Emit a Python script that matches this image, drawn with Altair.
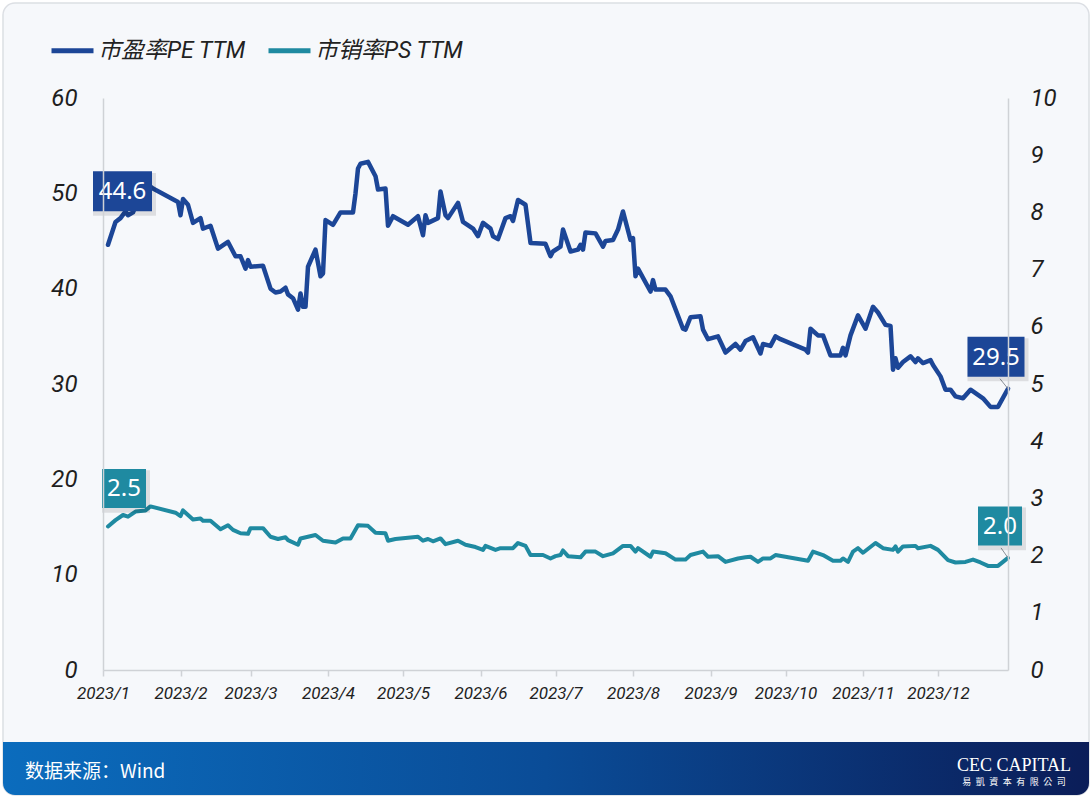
import altair as alt
import pandas as pd

# ---------------- data ----------------
series_names = ["市盈率PE TTM", "市销率PS TTM"]

pe_dates = [
    "01-03", "01-06", "01-08", "01-10", "01-11", "01-13", "01-15", "01-17", "01-19", "01-21",
    "01-31", "02-01", "02-02", "02-04", "02-06", "02-09", "02-10", "02-13", "02-16", "02-20",
    "02-23", "02-25", "02-27", "02-28", "03-01", "03-06", "03-09", "03-11", "03-13", "03-15",
    "03-16", "03-18", "03-20", "03-21", "03-22", "03-23", "03-24", "03-27", "03-29", "03-30",
    "03-31", "04-03", "04-06", "04-11", "04-12", "04-13", "04-14", "04-17", "04-20", "04-21",
    "04-24", "04-25", "04-27", "05-03", "05-07", "05-09", "05-10", "05-11", "05-15", "05-16",
    "05-18", "05-19", "05-23", "05-25", "05-29", "05-31", "06-02", "06-05", "06-06", "06-08",
    "06-11", "06-13", "06-14", "06-16", "06-19", "06-21", "06-27", "06-29", "06-30", "07-03",
    "07-04", "07-07", "07-10", "07-11", "07-12", "07-13", "07-17", "07-20", "07-21", "07-24",
    "07-26", "07-28", "07-31", "08-01", "08-02", "08-03", "08-08", "08-09", "08-10", "08-14",
    "08-16", "08-21", "08-22", "08-24", "08-28", "08-29", "08-31", "09-04", "09-07", "09-11",
    "09-13", "09-15", "09-18", "09-21", "09-22", "09-25", "09-27", "09-29", "10-09", "10-10",
    "10-11", "10-14", "10-16", "10-19", "10-23", "10-24", "10-25", "10-27", "10-30", "11-02",
    "11-05", "11-07", "11-10", "11-12", "11-13", "11-14", "11-15", "11-17", "11-20", "11-22",
    "11-23", "11-25", "11-28", "11-29", "12-02", "12-04", "12-06", "12-08", "12-11", "12-14",
    "12-19", "12-22", "12-25", "12-29",
]
pe_values = [
    44.6, 47.0, 47.4, 48.1, 47.7, 48.0, 49.3, 50.2, 50.9, 50.5,
    49.1, 47.7, 49.4, 48.8, 46.9, 47.4, 46.3, 46.6, 44.2, 44.9,
    43.4, 43.4, 42.1, 43.0, 42.3, 42.4, 40.0, 39.6, 39.7, 40.1,
    39.4, 39.0, 37.8, 39.5, 38.1, 38.1, 42.3, 44.1, 41.3, 41.6,
    47.2, 46.7, 48.0, 48.0, 50.0, 52.6, 53.1, 53.3, 51.8, 50.4,
    50.5, 46.6, 47.6, 46.7, 47.6, 45.6, 47.7, 46.9, 47.4, 50.2,
    47.7, 47.4, 49.0, 47.0, 46.3, 45.5, 46.9, 46.3, 45.5, 45.2,
    47.4, 47.6, 47.1, 49.3, 48.8, 44.8, 44.7, 43.4, 43.9, 44.4,
    46.2, 43.9, 44.1, 44.6, 44.1, 45.9, 45.8, 44.4, 45.0, 45.1,
    46.2, 48.1, 45.1, 45.3, 41.3, 42.1, 39.7, 40.9, 39.9, 39.9,
    39.2, 35.8, 35.7, 37.0, 37.1, 35.7, 34.7, 35.0, 33.3, 34.2,
    33.6, 34.5, 34.9, 33.2, 34.2, 34.0, 35.0, 34.7, 33.6, 33.3,
    35.8, 35.1, 35.1, 33.0, 33.0, 33.8, 33.0, 35.1, 37.2, 35.8,
    38.1, 37.5, 36.2, 36.1, 31.5, 32.7, 31.7, 32.3, 32.9, 32.3,
    32.7, 32.2, 32.5, 32.0, 30.8, 29.4, 29.4, 28.7, 28.5, 29.4,
    28.5, 27.6, 27.6, 29.5,
]

ps_dates = [
    "01-03", "01-06", "01-09", "01-11", "01-14", "01-18", "01-20", "01-30", "02-01", "02-02",
    "02-06", "02-09", "02-10", "02-13", "02-17", "02-20", "02-22", "02-25", "02-28", "03-01",
    "03-06", "03-09", "03-12", "03-15", "03-16", "03-20", "03-21", "03-24", "03-27", "03-30",
    "04-04", "04-07", "04-10", "04-13", "04-17", "04-20", "04-24", "04-25", "04-28", "05-07",
    "05-09", "05-11", "05-13", "05-16", "05-18", "05-23", "05-26", "05-30", "06-02", "06-03",
    "06-07", "06-09", "06-14", "06-16", "06-19", "06-21", "06-26", "06-29", "07-01", "07-03",
    "07-04", "07-06", "07-11", "07-13", "07-17", "07-20", "07-24", "07-28", "07-31", "08-02",
    "08-03", "08-08", "08-09", "08-14", "08-18", "08-22", "08-24", "08-29", "08-31", "09-04",
    "09-07", "09-12", "09-15", "09-17", "09-20", "09-22", "09-25", "09-27", "10-10", "10-12",
    "10-16", "10-20", "10-23", "10-24", "10-26", "10-28", "10-30", "11-01", "11-06", "11-09",
    "11-13", "11-14", "11-15", "11-17", "11-22", "11-23", "11-28", "12-01", "12-05", "12-08",
    "12-12", "12-15", "12-18", "12-21", "12-25", "12-29",
]
ps_values = [
    2.51, 2.62, 2.71, 2.68, 2.77, 2.79, 2.86, 2.75, 2.69, 2.79,
    2.63, 2.65, 2.61, 2.61, 2.46, 2.53, 2.45, 2.39, 2.38, 2.48,
    2.48, 2.33, 2.29, 2.32, 2.27, 2.19, 2.30, 2.33, 2.36, 2.26,
    2.23, 2.30, 2.30, 2.53, 2.52, 2.40, 2.39, 2.26, 2.29, 2.33,
    2.26, 2.29, 2.25, 2.30, 2.20, 2.26, 2.19, 2.15, 2.10, 2.17,
    2.10, 2.13, 2.13, 2.22, 2.17, 2.01, 2.01, 1.95, 1.99, 2.01,
    2.09, 1.99, 1.97, 2.07, 2.07, 1.99, 2.04, 2.17, 2.17, 2.07,
    2.13, 1.98, 2.07, 2.04, 1.93, 1.93, 2.01, 2.07, 1.98, 1.99,
    1.89, 1.95, 1.97, 1.98, 1.89, 1.95, 1.95, 2.01, 1.91, 2.07,
    2.01, 1.91, 1.91, 1.95, 1.89, 2.07, 2.13, 2.05, 2.22, 2.13,
    2.10, 2.16, 2.07, 2.16, 2.17, 2.13, 2.17, 2.10, 1.92, 1.88,
    1.89, 1.93, 1.88, 1.82, 1.82, 1.96,
]

left_ticks = [0, 10, 20, 30, 40, 50, 60]
right_ticks = [0, 1, 2, 3, 4, 5, 6, 7, 8, 9, 10]
tick_months = [1, 2, 3, 4, 5, 6, 7, 8, 9, 10, 11, 12]
source_text = "数据来源：Wind"
logo_text = "CEC CAPITAL"
logo_sub = "\u2002".join(["易", "凱", "資", "本", "有", "限", "公", "司"])

PE_COLOR = "#1c4697"
PS_COLOR = "#1f8aa1"
AXIS_GREY = "#cfd2d6"
LABEL_FONT = "Roboto"


def to_date(md):
    return "2023/" + md.replace("-", "/")


pe_df = pd.DataFrame({"date": [to_date(d) for d in pe_dates], "value": pe_values, "series": series_names[0]})
ps_df = pd.DataFrame({"date": [to_date(d) for d in ps_dates], "value": ps_values, "series": series_names[1]})
one = pd.DataFrame({"k": [0]})

# ---------------- encodings ----------------
x_enc = alt.X(
    "date:T",
    scale=alt.Scale(domain=[alt.DateTime(year=2023, month=1, date=1),
                            alt.DateTime(year=2023, month=12, date=29)]),
    axis=alt.Axis(
        title=None,
        values=[alt.DateTime(year=2023, month=m, date=1) for m in tick_months],
        labelExpr="timeFormat(datum.value, '%Y/') + (month(datum.value) + 1)",
        tickSize=6, tickColor=AXIS_GREY, tickWidth=1.5,
        domainColor=AXIS_GREY, domainWidth=1.5,
        labelFont=LABEL_FONT, labelFontStyle="italic", labelFontSize=17, labelColor="#222222",
        labelPadding=9, labelFlush=False, labelOverlap=False, grid=False, zindex=1,
    ),
)

y_pe = alt.Y(
    "value:Q",
    scale=alt.Scale(domain=[0, 60], nice=False),
    axis=alt.Axis(
        title=None, orient="left", values=left_ticks, ticks=False, tickSize=0,
        domainColor=AXIS_GREY, domainWidth=1.5,
        labelFont=LABEL_FONT, labelFontStyle="italic", labelFontSize=24, labelColor="#1e1e1e",
        labelPadding=26, grid=False, zindex=1,
    ),
)
y_ps = alt.Y(
    "value:Q",
    scale=alt.Scale(domain=[0, 10], nice=False),
    axis=alt.Axis(
        title=None, orient="right", values=right_ticks, ticks=False, tickSize=0,
        domainColor=AXIS_GREY, domainWidth=1.5,
        labelFont=LABEL_FONT, labelFontStyle="italic", labelFontSize=24, labelColor="#1e1e1e",
        labelPadding=22, grid=False, zindex=1,
    ),
)

color_enc = alt.Color(
    "series:N",
    scale=alt.Scale(domain=series_names, range=[PE_COLOR, PS_COLOR]),
    legend=alt.Legend(
        title=None, orient="none", legendX=-54, legendY=-71, direction="horizontal",
        symbolType="stroke", symbolSize=1764, symbolStrokeWidth=5,
        labelFont="Roboto, Noto Sans CJK SC", labelFontStyle="italic", labelFontSize=23,
        labelColor="#222222", labelOffset=2, columnPadding=12, padding=0,
    ),
)


def tag_layers(df, y_enc, color, w, h, dx, dy, leader=None):
    base = alt.Chart(df).encode(x=x_enc, y=y_enc)
    r = h / w
    path = f"M-1,{-r:.4f}L1,{-r:.4f}L1,{r:.4f}L-1,{r:.4f}Z"
    layers = []
    if leader is not None:
        lx, ly = leader
        layers.append(base.mark_point(
            shape=f"M0,0L{lx / 10:.3f},{ly / 10:.3f}", size=400, filled=False,
            color="#8a8f96", strokeWidth=1, opacity=1))
    layers.append(base.mark_point(shape=path, size=(w + 4) ** 2, filled=True, color="#000000",
                                  opacity=0.10, xOffset=dx + 2, yOffset=dy + 3, strokeWidth=0))
    layers.append(base.mark_point(shape=path, size=w * w, filled=True, color=color,
                                  opacity=1, xOffset=dx, yOffset=dy, strokeWidth=0))
    layers.append(base.mark_text(color="white", font="Noto Sans", fontSize=24, dx=dx, dy=dy + 1,
                                 align="center", baseline="middle")
                  .encode(text=alt.Text("value:Q", format=".1f")))
    return layers


# ---------------- decoration ----------------
card = alt.Chart(one).mark_rect(fill="#f6f8fb", stroke="#dcdfe4", strokeWidth=1.5, cornerRadius=12).encode(
    x=alt.value(-100), x2=alt.value(986), y=alt.value(-95), y2=alt.value(697))

footer = alt.Chart(one).mark_rect(
    color=alt.Gradient(gradient="linear", x1=0, x2=1, y1=0, y2=0,
                       stops=[alt.GradientStop(color="#0b6cbd", offset=0),
                              alt.GradientStop(color="#0a4c97", offset=0.5),
                              alt.GradientStop(color="#0b1d58", offset=1)]),
    cornerRadiusBottomLeft=12, cornerRadiusBottomRight=12,
).encode(x=alt.value(-100), x2=alt.value(986), y=alt.value(644), y2=alt.value(697))

src = alt.Chart(one).mark_text(text=source_text, color="white", font="Noto Sans CJK SC", fontSize=19,
                               align="left", baseline="middle").encode(x=alt.value(-78), y=alt.value(674))
logo = alt.Chart(one).mark_text(text=logo_text, color="white", font="Liberation Serif", fontSize=18,
                                align="center", baseline="middle").encode(x=alt.value(911), y=alt.value(668))
logo2 = alt.Chart(one).mark_text(text=logo_sub, color="white", font="Noto Sans CJK TC", fontSize=9,
                                 align="center", baseline="middle").encode(x=alt.value(911), y=alt.value(684))

# ---------------- series ----------------
pe_line = alt.Chart(pe_df).mark_line(strokeWidth=4.5, strokeJoin="round", strokeCap="round").encode(
    x=x_enc, y=y_pe, color=color_enc)
ps_line = alt.Chart(ps_df).mark_line(strokeWidth=4, strokeJoin="round", strokeCap="round").encode(
    x=x_enc, y=y_ps, color=color_enc)

pe_layer = alt.layer(
    pe_line,
    *tag_layers(pe_df.iloc[[0]], y_pe, PE_COLOR, 59, 40, 14.5, -53.5),
    *tag_layers(pe_df.iloc[[-1]], y_pe, PE_COLOR, 57, 40, -12, -32, leader=(-8, -10)),
)
ps_layer = alt.layer(
    ps_line,
    *tag_layers(ps_df.iloc[[0]], y_ps, PS_COLOR, 44, 39, 16, -38),
    *tag_layers(ps_df.iloc[[-1]], y_ps, PS_COLOR, 44, 39, -8, -32, leader=(-7, -10)),
)

chart = alt.layer(card, footer, src, logo, logo2, pe_layer, ps_layer).resolve_scale(
    y="independent"
).properties(
    width=905, height=572,
    padding={"left": 103, "top": 98, "right": 84, "bottom": 126},
    autosize=alt.AutoSizeParams(type="none"),
    background="white",
).configure_view(strokeWidth=0)

chart.save("out.html", embed_options={"renderer": "svg", "actions": False})
